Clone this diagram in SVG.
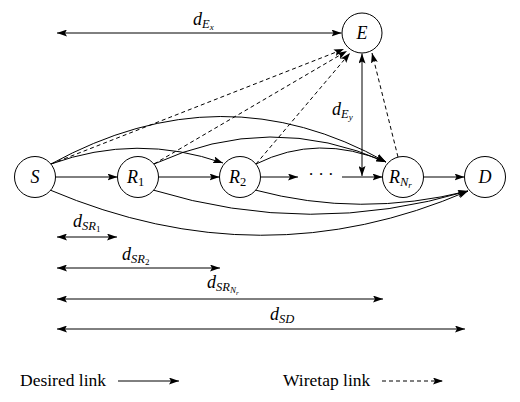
<svg xmlns="http://www.w3.org/2000/svg" width="520" height="402" viewBox="0 0 520 402">
<rect width="520" height="402" fill="#fff"/>
<defs>
<marker id="ah" viewBox="0 0 10 7" refX="10" refY="3.5" markerWidth="10" markerHeight="7" markerUnits="userSpaceOnUse" orient="auto-start-reverse">
<path d="M0,0 L10,3.5 L0,7 L2,3.5 z" fill="#000" stroke="none"/>
</marker>
</defs>

<g id="connectors" fill="none" stroke="#000" stroke-width="1">
<g id="desired" marker-end="url(#ah)">
<line x1="55.5" y1="177" x2="117.5" y2="177"/>
<line x1="158.5" y1="177" x2="219.5" y2="177"/>
<line x1="260.5" y1="177" x2="298" y2="177"/>
<line x1="342" y1="177" x2="382.5" y2="177"/>
<line x1="423.5" y1="177" x2="464.5" y2="177"/>
<path d="M51,164 Q137,133 223,163"/>
<path d="M51,164 Q222,70 386,162"/>
<path d="M154,164 Q270,111 386,162"/>
<path d="M256,164 Q318,133 386,162"/>
<path d="M50,190 Q262,280 468,191"/>
<path d="M153,190 Q310,238 468,191"/>
<path d="M255,190 Q360,218 468,191"/>
<line x1="118" y1="381" x2="179" y2="381"/>
</g>
<g id="wiretap" marker-end="url(#ah)" stroke-dasharray="4 3">
<line x1="51" y1="164" x2="344" y2="49"/>
<line x1="154" y1="164" x2="347" y2="51"/>
<line x1="256" y1="164" x2="350" y2="53"/>
<line x1="398" y1="157" x2="372" y2="53"/>
<line x1="382" y1="381" x2="443" y2="381"/>
</g>
<g id="distances" marker-start="url(#ah)" marker-end="url(#ah)">
<line x1="57" y1="33" x2="341.5" y2="33"/>
<line x1="362" y1="53.5" x2="362" y2="176"/>
<line x1="57" y1="237" x2="117" y2="237"/>
<line x1="57" y1="268" x2="220" y2="268"/>
<line x1="57" y1="299" x2="383" y2="299"/>
<line x1="57" y1="329" x2="465" y2="329"/>
</g>
</g>

<g id="node-S"><circle cx="35" cy="177" r="20.5" fill="#fff" stroke="#000"/><text font-family="Liberation Serif" font-style="italic" font-size="18" x="35" y="183" text-anchor="middle">S</text></g>
<g id="node-R1"><circle cx="138" cy="177" r="20.5" fill="#fff" stroke="#000"/><text font-family="Liberation Serif" font-style="italic" font-size="18" x="127" y="183">R<tspan font-style="normal" font-size="12.5" dy="3">1</tspan></text></g>
<g id="node-R2"><circle cx="240" cy="177" r="20.5" fill="#fff" stroke="#000"/><text font-family="Liberation Serif" font-style="italic" font-size="18" x="229" y="183">R<tspan font-style="normal" font-size="12.5" dy="3">2</tspan></text></g>
<g id="node-RNr"><circle cx="403" cy="177" r="20.5" fill="#fff" stroke="#000"/><text font-family="Liberation Serif" font-style="italic" font-size="18" x="389" y="183">R<tspan font-size="12.5" dy="3">N</tspan><tspan font-size="9" dy="2">r</tspan></text></g>
<g id="node-D"><circle cx="485" cy="177" r="20.5" fill="#fff" stroke="#000"/><text font-family="Liberation Serif" font-style="italic" font-size="18" x="485" y="183" text-anchor="middle">D</text></g>
<g id="node-E"><circle cx="362" cy="33" r="20" fill="#fff" stroke="#000"/><text font-family="Liberation Serif" font-style="italic" font-size="18" x="362" y="39" text-anchor="middle">E</text></g>

<g id="dots"><text font-family="Liberation Serif" font-size="17" x="321" y="180" text-anchor="middle">&#183; &#183; &#183;</text></g>

<g id="labels">
<text font-family="Liberation Serif" font-style="italic" font-size="18" x="193" y="25">d<tspan font-size="12.5" dy="3">E</tspan><tspan font-size="9" dy="2">x</tspan></text>
<text font-family="Liberation Serif" font-style="italic" font-size="18" x="332" y="115">d<tspan font-size="12.5" dy="3">E</tspan><tspan font-size="9" dy="2">y</tspan></text>
<text font-family="Liberation Serif" font-style="italic" font-size="18" x="73" y="227">d<tspan font-size="12.5" dy="3">SR</tspan><tspan font-style="normal" font-size="9" dy="2">1</tspan></text>
<text font-family="Liberation Serif" font-style="italic" font-size="18" x="122" y="260">d<tspan font-size="12.5" dy="3">SR</tspan><tspan font-style="normal" font-size="9" dy="2">2</tspan></text>
<text font-family="Liberation Serif" font-style="italic" font-size="18" x="207" y="288">d<tspan font-size="12.5" dy="3">SR</tspan><tspan font-size="9" dy="2">N</tspan><tspan font-size="7" dy="1.5">r</tspan></text>
<text font-family="Liberation Serif" font-style="italic" font-size="18" x="270" y="320">d<tspan font-size="12.5" dy="3">SD</tspan></text>
</g>

<g id="legend">
<text font-family="Liberation Serif" font-size="17.5" x="20" y="386">Desired link</text>
<text font-family="Liberation Serif" font-size="17.5" x="283" y="386">Wiretap link</text>
</g>
</svg>
